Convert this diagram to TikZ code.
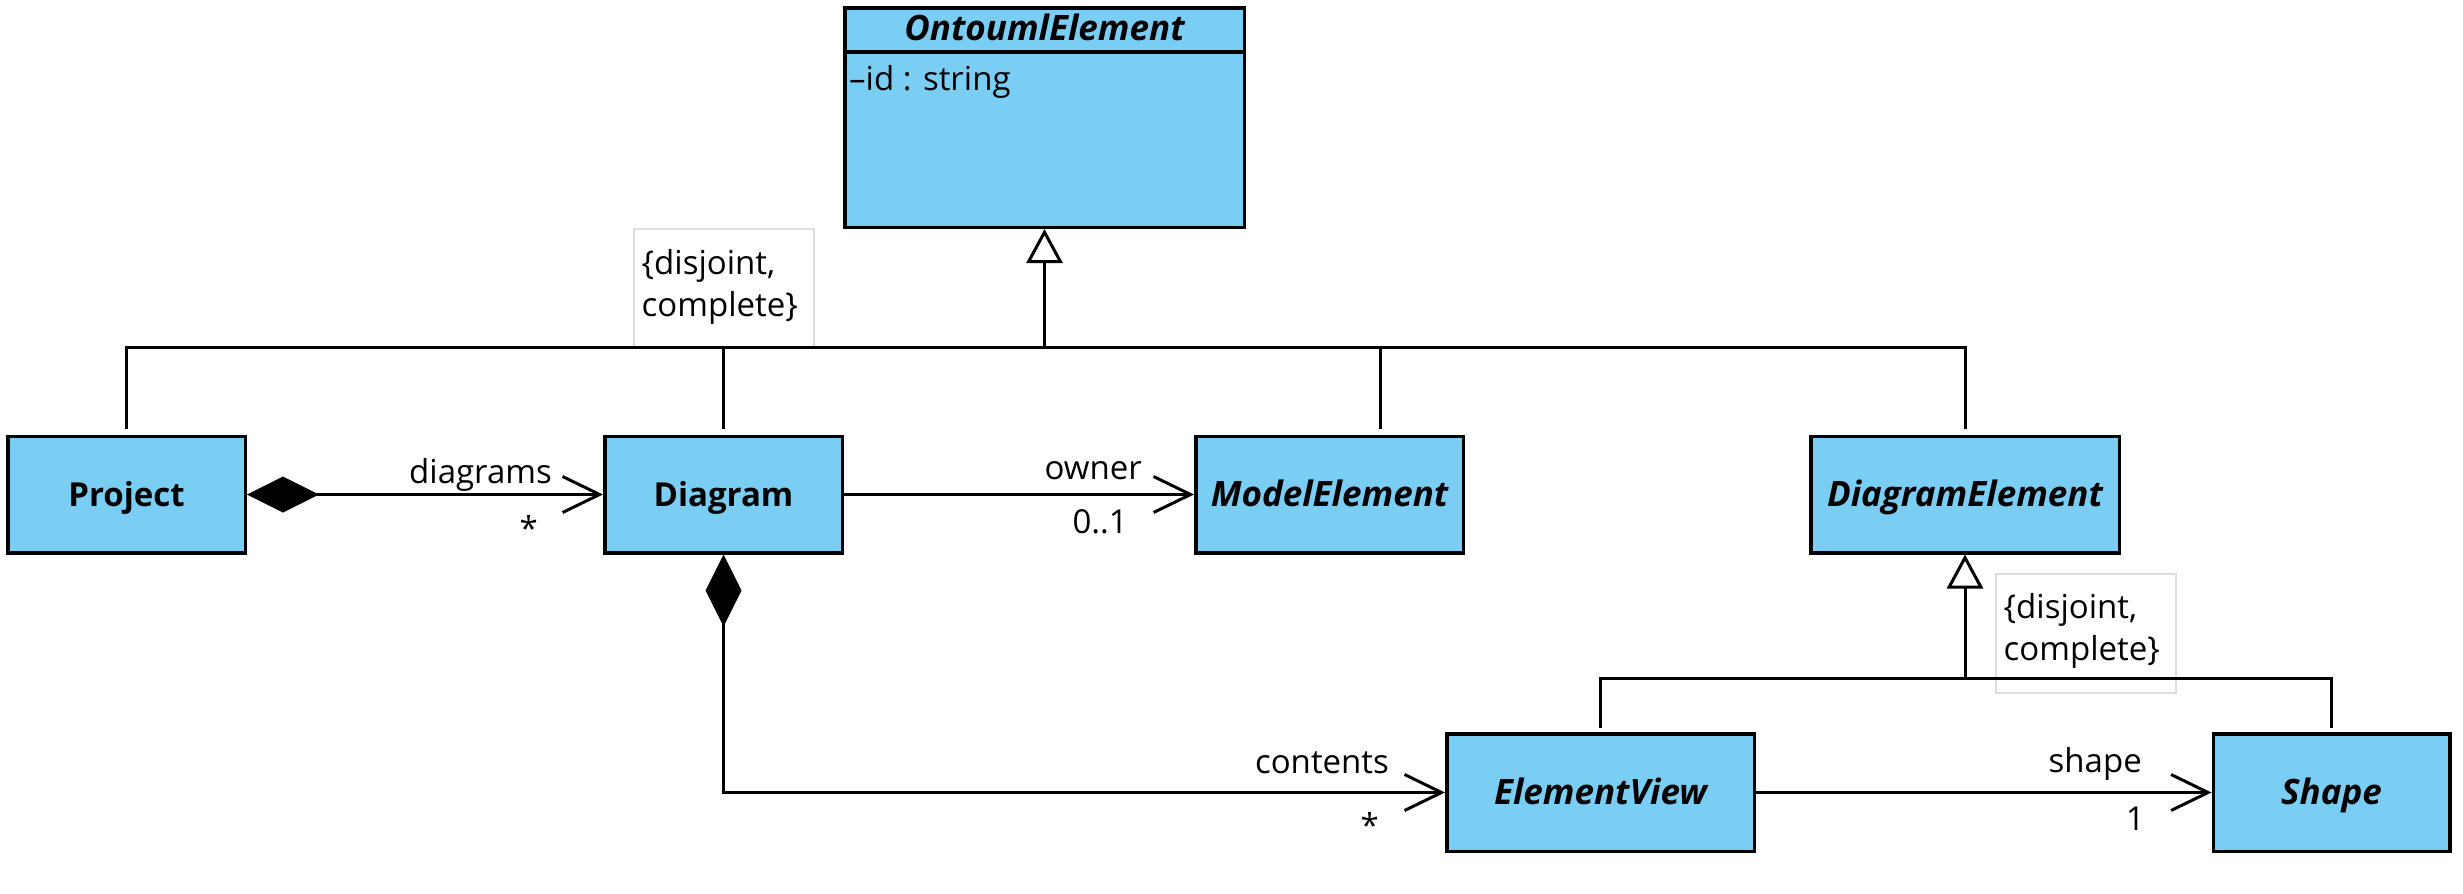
\documentclass[tikz,border=0pt]{standalone}
\usepackage{fontspec}
\setmainfont{Open Sans}
\usetikzlibrary{arrows.meta}
\definecolor{classblue}{RGB}{122,206,244}
\definecolor{notegray}{RGB}{221,221,221}
\newcommand{\umlfont}{\fontsize{33}{42}\selectfont}
\newcommand{\umlabsfont}{\fontsize{35}{42}\selectfont\bfseries\itshape}
\begin{document}
\begin{tikzpicture}[x=1pt,y=-1pt,
  umlclass/.style={draw=black, line width=3.5pt, fill=classblue, inner sep=0pt,
    minimum height=116.5pt, text height=24pt, text depth=0pt,
    font=\umlfont\bfseries},
  abstractclass/.style={umlclass, font=\umlabsfont},
  lbl/.style={inner sep=0pt, font=\umlfont},
  notebox/.style={draw=notegray, line width=1.5pt, anchor=north west, inner sep=0pt,
    minimum width=180pt, minimum height=119pt},
  conn/.style={line width=3pt},
  nav/.style={conn, -{Straight Barb[length=37pt,width=36pt]}},
  compnav/.style={conn, {Diamond[length=72pt,width=36pt]}-{Straight Barb[length=37pt,width=36pt]}},
  gen/.style={conn, -{Triangle[length=34pt,width=36pt,fill=white]}},
]
\useasboundingbox (0,0) rectangle (2463,894);

% generalization set constraints
\node[notebox] (note1) at (633,228) {};
\node[lbl, anchor=north west, align=left] (note1txt) at ([xshift=8.5pt,yshift=-21pt]note1.north west) {\{disjoint,\\complete\}};
\node[notebox] (note2) at (1995,573) {};
\node[lbl, anchor=north west, align=left] (note2txt) at ([xshift=8.5pt,yshift=-20pt]note2.north west) {\{disjoint,\\complete\}};

% root class with one attribute
\node[umlclass, minimum width=399.5pt, minimum height=219.5pt] (onto) at (1044.5,117.5) {};
\coordinate (hdr) at (0,52);
\draw[line width=3.5pt] (onto.west |- hdr) -- (onto.east |- hdr);
\node[lbl, font=\umlabsfont, anchor=base] (ontotitle) at (1044.5,40) {OntoumlElement};
\node[lbl, anchor=base west] (ontoattr) at (849,90) {–id : string};

% classes
\node[umlclass, minimum width=237.5pt] (project) at (126.5,494.5) {Project};
\node[umlclass, minimum width=237.5pt] (diagram) at (723.5,494.5) {Diagram};
\node[abstractclass, minimum width=267.5pt] (modelelement) at (1329.5,494.5) {ModelElement};
\node[abstractclass, minimum width=308.5pt] (diagramelement) at (1965,494.5) {DiagramElement};
\node[abstractclass, minimum width=307.5pt, minimum height=117.5pt] (elementview) at (1600.5,792.5) {ElementView};
\node[abstractclass, minimum width=236.5pt, minimum height=117.5pt] (shape) at (2331.5,792.5) {Shape};

% first generalization set
\coordinate (busy) at (0,347);
\coordinate (ptop) at ([yshift=6pt]project.north);
\coordinate (dtop) at ([yshift=6pt]diagram.north);
\coordinate (mtop) at ([xshift=50.5pt,yshift=6pt]modelelement.north);
\coordinate (detop) at ([yshift=6pt]diagramelement.north);
\draw[conn] (ptop) |- (detop |- busy) -- (detop);
\draw[conn] (dtop) -- (dtop |- busy);
\draw[conn] (mtop) -- (mtop |- busy);
\draw[gen] (onto.south |- busy) -- (onto.south);

% second generalization set
\coordinate (bus2y) at (0,678);
\coordinate (evtop) at ([yshift=4pt]elementview.north);
\coordinate (shtop) at ([yshift=4pt]shape.north);
\draw[conn] (evtop) |- (shtop |- bus2y) -- (shtop);
\draw[gen] (diagramelement.south |- bus2y) -- (diagramelement.south);

% associations
\draw[compnav] (project.east) -- (diagram.west);
\draw[compnav] (diagram.south) |- (elementview.west);
\draw[nav] (diagram.east) -- (modelelement.west);
\draw[nav] (elementview.east) -- (shape.west);

% association end labels
\node[lbl, anchor=base east] (ldiagrams) at (552,483) {diagrams};
\node[lbl, anchor=base east] (mdiagrams) at (538,540) {*};
\node[lbl, anchor=base east] (lowner) at (1142,479) {owner};
\node[lbl, anchor=base east] (mowner) at (1128,533) {0..1};
\node[lbl, anchor=base east] (lcontents) at (1389,773) {contents};
\node[lbl, anchor=base east] (mcontents) at (1379,837) {*};
\node[lbl, anchor=base east] (lshape) at (2142,772) {shape};
\node[lbl, anchor=base east] (mshape) at (2145,830) {1};
\end{tikzpicture}
\end{document}
